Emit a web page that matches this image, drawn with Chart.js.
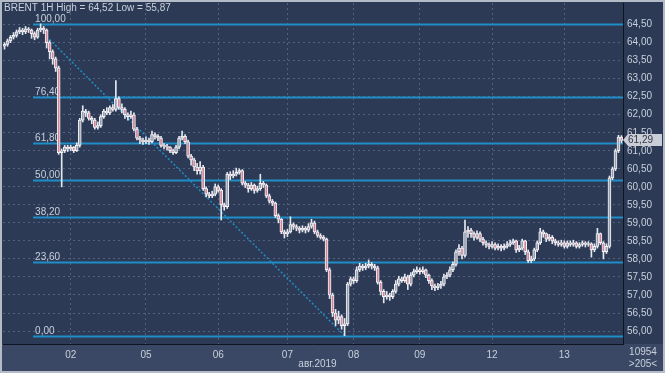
<!DOCTYPE html>
<html>
<head>
<meta charset="utf-8">
<script src="https://cdn.jsdelivr.net/npm/chart.js@4.4.1/dist/chart.umd.min.js"></script>
<style>
  html, body { margin: 0; padding: 0; background: #b3bbc7; }
  #wrap { width: 665px; height: 373px; }
</style>
</head>
<body>
<div id="wrap"><canvas id="brentChart" width="665" height="373"></canvas></div>
<script>
// BRENT 1H candles, 1-13 Aug 2019
const dayLabels = ['01', '02', '05', '06', '07', '08', '09', '12', '13'];
const dayStarts = [0, 22, 47, 71, 94, 116, 138, 162, 186];

const opens = [
  63.90, 63.95, 64.05, 64.15, 64.20, 64.30, 64.35, 64.30, 64.38, 64.35,
  64.25, 64.15, 64.35, 64.40, 64.35, 64.00, 63.75, 63.55, 63.30, 60.95,
  61.00, 61.10, 61.05, 61.10, 61.00, 61.15, 61.85, 62.10, 62.05, 61.90,
  61.85, 61.65, 61.70, 61.95, 62.10, 62.05, 62.20, 62.15, 62.45, 62.20,
  62.15, 62.00, 61.95, 62.00, 61.60, 61.35, 61.30, 61.25, 61.30, 61.25,
  61.45, 61.40, 61.35, 61.15, 61.12, 61.10, 61.00, 60.95, 61.10, 61.35,
  61.40, 61.25, 60.85, 60.75, 60.55, 60.45, 60.55, 59.95, 59.80, 59.75,
  59.80, 60.00, 59.90, 59.50, 59.45, 60.35, 60.30, 60.35, 60.40, 60.45,
  60.10, 60.05, 59.95, 60.05, 59.90, 59.95, 60.10, 60.05, 59.75, 59.60,
  59.55, 59.20, 59.10, 58.75, 58.70, 58.75, 58.95, 58.90, 58.85, 58.80,
  58.85, 58.80, 58.90, 59.00, 58.75, 58.65, 58.60, 58.55, 57.70, 57.00,
  56.50, 56.30, 56.40, 56.15, 56.20, 57.30, 57.45, 57.40, 57.70, 57.80,
  57.75, 57.80, 57.85, 57.80, 57.75, 57.35, 57.10, 56.95, 57.00, 56.95,
  57.10, 57.30, 57.45, 57.40, 57.50, 57.30, 57.55, 57.65, 57.70, 57.65,
  57.70, 57.55, 57.40, 57.25, 57.20, 57.25, 57.30, 57.50, 57.55, 57.70,
  57.85, 58.20, 58.30, 58.10, 58.75, 58.80, 58.70, 58.60, 58.70, 58.55,
  58.45, 58.40, 58.35, 58.40, 58.30, 58.35, 58.30, 58.35, 58.40, 58.45,
  58.50, 58.25, 58.30, 58.50, 58.20, 57.95, 58.00, 58.25, 58.45, 58.75,
  58.70, 58.55, 58.60, 58.50, 58.45, 58.40, 58.45, 58.35, 58.45, 58.40,
  58.45, 58.35, 58.40, 58.45, 58.40, 58.42, 58.25, 58.35, 58.70, 58.45,
  58.20, 58.35, 60.25, 60.50, 61.00, 61.38
];
const highs = [
  64.00, 64.10, 64.20, 64.28, 64.35, 64.42, 64.40, 64.45, 64.42, 64.38,
  64.30, 64.40, 64.52, 64.45, 64.38, 64.05, 63.80, 63.60, 63.35, 61.05,
  61.15, 61.15, 61.15, 61.12, 61.22, 61.90, 62.25, 62.15, 62.10, 61.95,
  61.90, 61.80, 62.00, 62.15, 62.20, 62.25, 62.28, 62.95, 62.50, 62.30,
  62.20, 62.05, 62.10, 62.05, 61.65, 61.40, 61.35, 61.38, 61.35, 61.55,
  61.50, 61.45, 61.40, 61.20, 61.18, 61.12, 61.05, 61.15, 61.40, 61.55,
  61.45, 61.30, 60.90, 60.80, 60.65, 60.70, 60.60, 60.00, 59.85, 59.88,
  60.08, 60.05, 59.95, 59.55, 60.40, 60.42, 60.45, 60.52, 60.50, 60.48,
  60.15, 60.10, 60.12, 60.08, 60.02, 60.35, 60.15, 60.08, 59.80, 59.65,
  59.58, 59.25, 59.12, 58.80, 58.82, 59.17, 59.00, 58.95, 58.90, 58.92,
  58.90, 58.98, 59.10, 59.05, 58.80, 58.70, 58.65, 58.58, 57.75, 57.05,
  56.60, 56.55, 56.45, 56.35, 57.35, 57.50, 57.50, 57.78, 57.88, 57.85,
  57.88, 57.97, 57.90, 57.85, 57.80, 57.40, 57.15, 57.10, 57.05, 57.15,
  57.40, 57.52, 57.50, 57.58, 57.55, 57.62, 57.72, 57.78, 57.75, 57.78,
  57.72, 57.58, 57.45, 57.30, 57.32, 57.38, 57.58, 57.62, 57.78, 57.92,
  58.25, 58.40, 58.35, 59.08, 58.90, 58.85, 58.75, 58.78, 58.75, 58.60,
  58.50, 58.45, 58.48, 58.45, 58.42, 58.40, 58.42, 58.48, 58.52, 58.55,
  58.52, 58.38, 58.55, 58.52, 58.25, 58.08, 58.30, 58.50, 58.85, 58.80,
  58.72, 58.68, 58.65, 58.55, 58.50, 58.52, 58.50, 58.50, 58.50, 58.52,
  58.48, 58.45, 58.50, 58.48, 58.48, 58.45, 58.42, 58.85, 58.72, 58.48,
  58.42, 60.30, 60.55, 61.05, 61.43, 61.42
];
const lows = [
  63.82, 63.90, 64.00, 64.10, 64.15, 64.25, 64.22, 64.25, 64.28, 64.12,
  64.08, 64.12, 64.30, 64.25, 63.85, 63.55, 63.40, 63.20, 60.90, 60.00,
  60.95, 60.98, 61.00, 60.95, 60.98, 61.10, 61.80, 61.95, 61.85, 61.75,
  61.60, 61.60, 61.65, 61.90, 62.00, 62.00, 62.10, 62.10, 62.15, 62.05,
  61.90, 61.85, 61.90, 61.55, 61.30, 61.20, 61.18, 61.20, 61.18, 61.22,
  61.32, 61.28, 61.10, 61.05, 61.02, 60.95, 60.90, 60.92, 61.05, 61.30,
  61.20, 60.80, 60.60, 60.45, 60.35, 60.35, 59.90, 59.72, 59.70, 59.70,
  59.75, 59.85, 59.08, 59.35, 59.40, 60.20, 60.25, 60.30, 60.35, 60.05,
  59.98, 59.85, 59.90, 59.82, 59.85, 59.90, 59.98, 59.70, 59.55, 59.48,
  59.15, 59.00, 58.70, 58.58, 58.62, 58.72, 58.82, 58.78, 58.72, 58.75,
  58.72, 58.75, 58.85, 58.70, 58.60, 58.55, 58.50, 57.65, 56.90, 56.40,
  56.15, 56.20, 56.05, 55.87, 56.15, 57.25, 57.32, 57.35, 57.65, 57.68,
  57.70, 57.75, 57.72, 57.68, 57.30, 57.00, 56.78, 56.88, 56.85, 56.90,
  57.05, 57.25, 57.35, 57.35, 57.15, 57.25, 57.50, 57.60, 57.58, 57.60,
  57.48, 57.32, 57.15, 57.12, 57.15, 57.18, 57.25, 57.45, 57.50, 57.65,
  57.80, 58.10, 58.00, 58.05, 58.60, 58.60, 58.52, 58.55, 58.48, 58.38,
  58.32, 58.28, 58.30, 58.25, 58.25, 58.22, 58.25, 58.30, 58.35, 58.40,
  58.18, 58.20, 58.25, 58.12, 57.90, 57.90, 57.95, 58.20, 58.40, 58.60,
  58.48, 58.50, 58.42, 58.38, 58.35, 58.35, 58.30, 58.30, 58.35, 58.35,
  58.30, 58.30, 58.35, 58.33, 58.35, 58.05, 58.20, 58.30, 58.40, 58.00,
  58.15, 58.30, 60.20, 60.45, 60.95, 61.22
];
const closes = [
  63.95, 64.05, 64.15, 64.20, 64.30, 64.35, 64.30, 64.38, 64.35, 64.25,
  64.15, 64.35, 64.40, 64.35, 64.00, 63.75, 63.55, 63.30, 60.95, 61.00,
  61.10, 61.05, 61.10, 61.00, 61.15, 61.85, 62.10, 62.05, 61.90, 61.85,
  61.65, 61.70, 61.95, 62.10, 62.05, 62.20, 62.15, 62.45, 62.20, 62.15,
  62.00, 61.95, 62.00, 61.60, 61.35, 61.30, 61.25, 61.30, 61.25, 61.45,
  61.40, 61.35, 61.15, 61.12, 61.10, 61.00, 60.95, 61.10, 61.35, 61.40,
  61.25, 60.85, 60.75, 60.55, 60.45, 60.55, 59.95, 59.80, 59.75, 59.80,
  60.00, 59.90, 59.50, 59.45, 60.35, 60.30, 60.35, 60.40, 60.45, 60.10,
  60.05, 59.95, 60.05, 59.90, 59.95, 60.10, 60.05, 59.75, 59.60, 59.55,
  59.20, 59.10, 58.75, 58.70, 58.75, 58.95, 58.90, 58.85, 58.80, 58.85,
  58.80, 58.90, 59.00, 58.75, 58.65, 58.60, 58.55, 57.70, 57.00, 56.50,
  56.30, 56.40, 56.15, 56.20, 57.30, 57.45, 57.40, 57.70, 57.80, 57.75,
  57.80, 57.85, 57.80, 57.75, 57.35, 57.10, 56.95, 57.00, 56.95, 57.10,
  57.30, 57.45, 57.40, 57.50, 57.30, 57.55, 57.65, 57.70, 57.65, 57.70,
  57.55, 57.40, 57.25, 57.20, 57.25, 57.30, 57.50, 57.55, 57.70, 57.85,
  58.20, 58.30, 58.10, 58.75, 58.80, 58.70, 58.60, 58.70, 58.55, 58.45,
  58.40, 58.35, 58.40, 58.30, 58.35, 58.30, 58.35, 58.40, 58.45, 58.50,
  58.25, 58.30, 58.50, 58.20, 57.95, 58.00, 58.25, 58.45, 58.75, 58.70,
  58.55, 58.60, 58.50, 58.45, 58.40, 58.45, 58.35, 58.45, 58.40, 58.45,
  58.35, 58.40, 58.45, 58.40, 58.42, 58.25, 58.35, 58.70, 58.45, 58.20,
  58.35, 60.25, 60.50, 61.00, 61.38, 61.29
];

const priceTicks = [56.0, 56.5, 57.0, 57.5, 58.0, 58.5, 59.0, 59.5, 60.0,
  60.5, 61.0, 61.5, 62.0, 62.5, 63.0, 63.5, 64.0, 64.5];

// Fibonacci retracement drawn from the period high to the low
const fibHigh = 64.52;
const fibLow = 55.87;
const fibLevels = [0, 23.6, 38.2, 50, 61.8, 76.4, 100];
const fibStartIndex = 10;

// dotted trend line (candle index, price)
const trendFrom = [14, 64.17];
const trendTo = [113, 55.87];

const lastPrice = 61.29;
const volumeText = '10954';
const barsText = '>205<';
const monthText = 'авг.2019';
const headerText = 'BRENT 1H High = 64,52 Low = 55,87';

const COLORS = {
    frame: '#b3bbc7',
    plot: '#2c3a56',
    panel: '#3a4865',
    axisLine: '#0e1522',
    text: '#c9d0db',
    grid: '#52617d',
    fib: '#1f8ec6',
    wick: '#e4e7ee',
    bodyBorder: '#f2f3f7',
    up: '#98a0ae',
    down: '#d48699',
    priceBox: '#c9cdd5',
    priceText: '#2f3747'
};
const FONT = "'Liberation Sans', Arial, sans-serif";

// category labels: day + hour for each candle
const labels = [];
dayStarts.forEach((start, d) => {
    const end = d + 1 < dayStarts.length ? dayStarts[d + 1] : closes.length;
    for (let i = start; i < end; i++) labels.push(dayLabels[d] + ' ' + (i - start));
});

const fmt = v => v.toFixed(2).replace('.', ',');

const bgPlugin = {
    id: 'bgPlugin',
    beforeDraw(chart) {
        const { ctx, chartArea: a, width, height } = chart;
        ctx.save();
        ctx.fillStyle = COLORS.frame;
        ctx.fillRect(0, 0, width, height);
        ctx.fillStyle = COLORS.plot;
        ctx.fillRect(2, 2, width - 4, a.bottom - 2);
        ctx.fillStyle = COLORS.panel;
        ctx.fillRect(2, a.bottom, width - 4, height - 2 - a.bottom);
        ctx.restore();
    }
};

const fibPlugin = {
    id: 'fibPlugin',
    beforeDatasetsDraw(chart) {
        const { ctx, chartArea: a } = chart;
        const x = chart.scales.x;
        const y = chart.scales.y;
        ctx.save();
        ctx.beginPath();
        ctx.rect(a.left, a.top, a.right - a.left, a.bottom - a.top);
        ctx.clip();

        // trend line
        ctx.strokeStyle = COLORS.fib;
        ctx.lineWidth = 1.5;
        ctx.setLineDash([2, 2]);
        ctx.beginPath();
        ctx.moveTo(x.getPixelForValue(trendFrom[0]), y.getPixelForValue(trendFrom[1]));
        ctx.lineTo(x.getPixelForValue(trendTo[0]), y.getPixelForValue(trendTo[1]));
        ctx.stroke();
        ctx.setLineDash([]);

        const x0 = x.getPixelForValue(fibStartIndex) - 1.5;
        ctx.font = '10px ' + FONT;
        ctx.textBaseline = 'alphabetic';
        ctx.textAlign = 'left';
        fibLevels.forEach(lv => {
            const py = Math.round(y.getPixelForValue(fibLow + (fibHigh - fibLow) * lv / 100)) + 0.5;
            ctx.strokeStyle = COLORS.fib;
            ctx.lineWidth = 2;
            ctx.beginPath();
            ctx.moveTo(x0, py);
            ctx.lineTo(a.right, py);
            ctx.stroke();
            ctx.fillStyle = COLORS.text;
            ctx.fillText(fmt(lv), x0 + 2, py - 3);
        });
        ctx.restore();
    },
    afterDraw(chart) {
        const { ctx, chartArea: a, width, height } = chart;
        const x = chart.scales.x;
        const y = chart.scales.y;
        ctx.save();
        ctx.font = '10px ' + FONT;
        ctx.fillStyle = COLORS.text;
        ctx.textAlign = 'left';
        ctx.textBaseline = 'alphabetic';
        ctx.fillText(headerText, 4, 11);

        ctx.textAlign = 'center';
        ctx.textBaseline = 'middle';
        ctx.fillText(monthText, x.getPixelForValue(104), 364);
        const cx = (a.right + width - 2) / 2;
        ctx.fillText(volumeText, cx, 352);
        ctx.fillText(barsText, cx, 364);

        // last price marker on the axis
        const py = Math.round(y.getPixelForValue(lastPrice));
        ctx.fillStyle = COLORS.priceBox;
        ctx.beginPath();
        ctx.moveTo(a.right, py);
        ctx.lineTo(a.right + 5, py - 6);
        ctx.lineTo(width - 3, py - 6);
        ctx.lineTo(width - 3, py + 6);
        ctx.lineTo(a.right + 5, py + 6);
        ctx.closePath();
        ctx.fill();
        ctx.fillStyle = COLORS.priceText;
        ctx.textAlign = 'left';
        ctx.fillText(fmt(lastPrice), a.right + 5, py + 0.5);
        ctx.restore();
    }
};

new Chart(document.getElementById('brentChart'), {
    type: 'bar',
    data: {
        labels: labels,
        datasets: [
            {
                label: 'body',
                data: opens.map((o, i) => [o, closes[i]]),
                backgroundColor: opens.map((o, i) => closes[i] >= o ? COLORS.up : COLORS.down),
                borderColor: COLORS.bodyBorder,
                borderWidth: 1,
                borderSkipped: false,
                barThickness: 3,
                minBarLength: 1,
                grouped: false,
                order: 0
            },
            {
                label: 'wick',
                data: lows.map((l, i) => [l, highs[i]]),
                backgroundColor: COLORS.wick,
                borderWidth: 0,
                barThickness: 1,
                grouped: false,
                order: 1
            }
        ]
    },
    options: {
        responsive: false,
        animation: false,
        events: [],
        layout: { padding: { left: 3, top: 3, right: 2, bottom: 2 } },
        plugins: {
            legend: { display: false },
            tooltip: { enabled: false }
        },
        scales: {
            x: {
                type: 'category',
                offset: true,
                grid: {
                    offset: false,
                    drawTicks: false,
                    color: ctx => (ctx.index > 0 && dayStarts.includes(ctx.index)) ? COLORS.grid : 'rgba(0,0,0,0)'
                },
                border: { display: true, color: COLORS.axisLine, width: 1, dash: [2, 3] },
                ticks: {
                    autoSkip: false,
                    maxRotation: 0,
                    padding: 5,
                    color: COLORS.text,
                    font: { family: FONT, size: 10 },
                    callback: (val, idx) => {
                        const d = dayStarts.indexOf(idx);
                        return d > 0 ? dayLabels[d] : '';
                    }
                },
                afterFit: s => { s.height = 27; s.paddingLeft = 0; s.paddingRight = 0; }
            },
            y: {
                position: 'right',
                min: 55.64,
                max: 65.10,
                grid: { color: COLORS.grid, drawTicks: false },
                border: { display: true, color: COLORS.axisLine, width: 1, dash: [2, 3] },
                ticks: {
                    padding: 4,
                    color: COLORS.text,
                    font: { family: FONT, size: 10 },
                    callback: v => fmt(v)
                },
                afterBuildTicks: s => { s.ticks = priceTicks.map(v => ({ value: v })); },
                afterFit: s => { s.width = 40; s.paddingTop = 0; s.paddingBottom = 0; }
            }
        }
    },
    plugins: [bgPlugin, fibPlugin]
});
</script>
</body>
</html>
